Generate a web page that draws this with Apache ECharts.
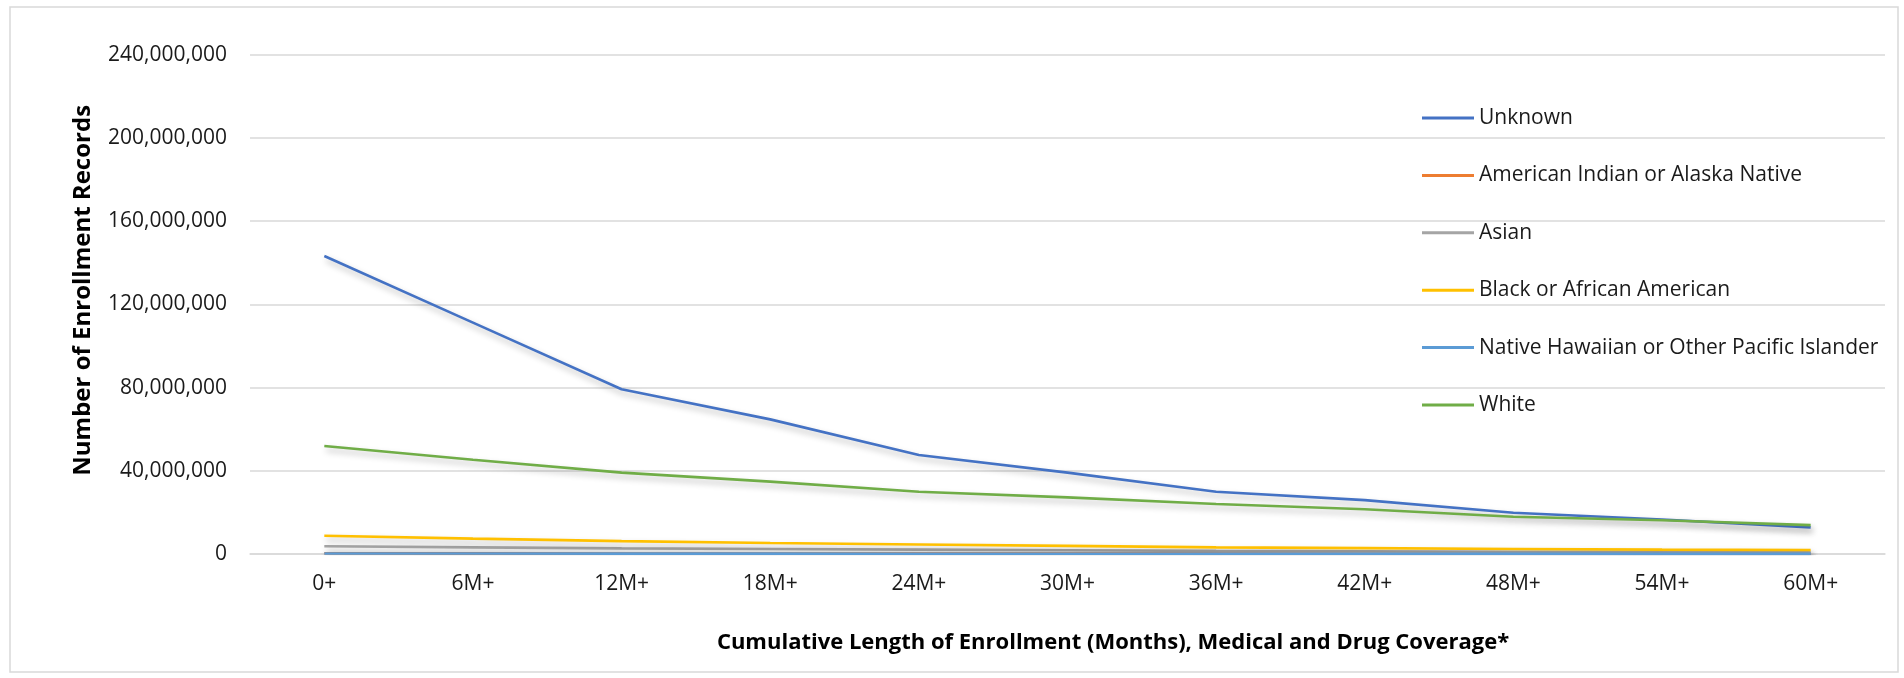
<!DOCTYPE html>
<html>
<head>
<meta charset="utf-8">
<script src="https://cdn.jsdelivr.net/npm/echarts@6/dist/echarts.min.js"></script>
<style>
html,body{margin:0;padding:0;background:#fff;}
#chart{width:1904px;height:678px;}
</style>
</head>
<body>
<div id="chart"></div>
<script>
const categories = ['0+','6M+','12M+','18M+','24M+','30M+','36M+','42M+','48M+','54M+','60M+'];
const seriesNames = ['Unknown','American Indian or Alaska Native','Asian','Black or African American','Native Hawaiian or Other Pacific Islander','White'];
const seriesColors = ['#4472C4','#ED7D31','#A5A5A5','#FFC000','#5B9BD5','#70AD47'];
// values in millions of enrollment records
const unknownVals  = [143.2, 111.2, 79.2, 64.7, 47.6, 39.1, 29.9, 25.9, 19.8, 16.6, 12.8];
const aianVals     = [0.35, 0.3, 0.26, 0.23, 0.2, 0.18, 0.16, 0.14, 0.12, 0.11, 0.1];
const asianVals    = [3.7, 3.2, 2.7, 2.4, 2.1, 1.8, 1.5, 1.3, 1.1, 1.0, 0.9];
const blackVals    = [8.8, 7.4, 6.2, 5.3, 4.6, 3.9, 3.2, 2.8, 2.4, 2.1, 1.9];
const nhpiVals     = [0.25, 0.21, 0.18, 0.16, 0.14, 0.12, 0.11, 0.1, 0.09, 0.08, 0.07];
const whiteVals    = [51.9, 45.3, 39.1, 34.8, 29.9, 27.2, 24.0, 21.5, 17.9, 16.2, 13.9];
const yMin = 0, yMax = 240000000, yInterval = 40000000;

const allVals = [unknownVals, aianVals, asianVals, blackVals, nhpiVals, whiteVals];
const FONT = 'Open Sans';

const chart = echarts.init(document.getElementById('chart'), null, {renderer:'canvas'});
const option = {
  backgroundColor: '#fff',
  animation: false,
  graphic: [{
    type: 'rect',
    shape: {x: 10, y: 7, width: 1888, height: 665},
    style: {fill: 'none', stroke: '#d9d9d9', lineWidth: 1.5},
    silent: true
  }],
  grid: {left: 250, right: 19, top: 54.6, bottom: 124, containLabel: false},
  legend: {
    orient: 'vertical',
    left: 1417,
    top: 102,
    padding: 5,
    itemWidth: 52,
    itemHeight: 3,
    itemGap: 35.4,
    icon: 'rect',
    data: seriesNames,
    textStyle: {fontFamily: FONT, fontSize: 21, lineHeight: 22, color: '#1a1a1a'}
  },
  xAxis: {
    type: 'category',
    data: categories,
    boundaryGap: true,
    axisLine: {show: true, lineStyle: {color: '#d9d9d9', width: 1.5}},
    axisTick: {show: false},
    axisLabel: {fontFamily: FONT, fontSize: 21, color: '#1a1a1a', margin: 20},
    name: 'Cumulative Length of Enrollment (Months), Medical and Drug Coverage*',
    nameLocation: 'middle',
    nameGap: 78,
    nameTextStyle: {fontFamily: FONT, fontSize: 22, fontWeight: 'bold', color: '#000', padding: [0,0,0,91]}
  },
  yAxis: {
    type: 'value',
    min: yMin, max: yMax, interval: yInterval,
    axisLine: {show: false},
    axisTick: {show: false},
    splitLine: {lineStyle: {color: '#d9d9d9', width: 1.5}},
    axisLabel: {fontFamily: FONT, fontSize: 21, color: '#1a1a1a', margin: 23,
      formatter: v => v.toLocaleString('en-US')},
    name: 'Number of Enrollment Records',
    nameLocation: 'middle',
    nameGap: 155,
    nameTextStyle: {fontFamily: FONT, fontSize: 24, fontWeight: 'bold', color: '#000', padding: [0,0,0,28]}
  },
  series: seriesNames.map((n, i) => ({
    name: n,
    type: 'line',
    data: allVals[i].map(v => v * 1e6),
    symbol: 'none',
    color: seriesColors[i],
    lineStyle: {width: 2.6, color: seriesColors[i], shadowColor: 'rgba(0,0,0,0.28)', shadowBlur: 6, shadowOffsetX: 2, shadowOffsetY: 4},
    emphasis: {disabled: true}
  }))
};
chart.setOption(option);
</script>
</body>
</html>
